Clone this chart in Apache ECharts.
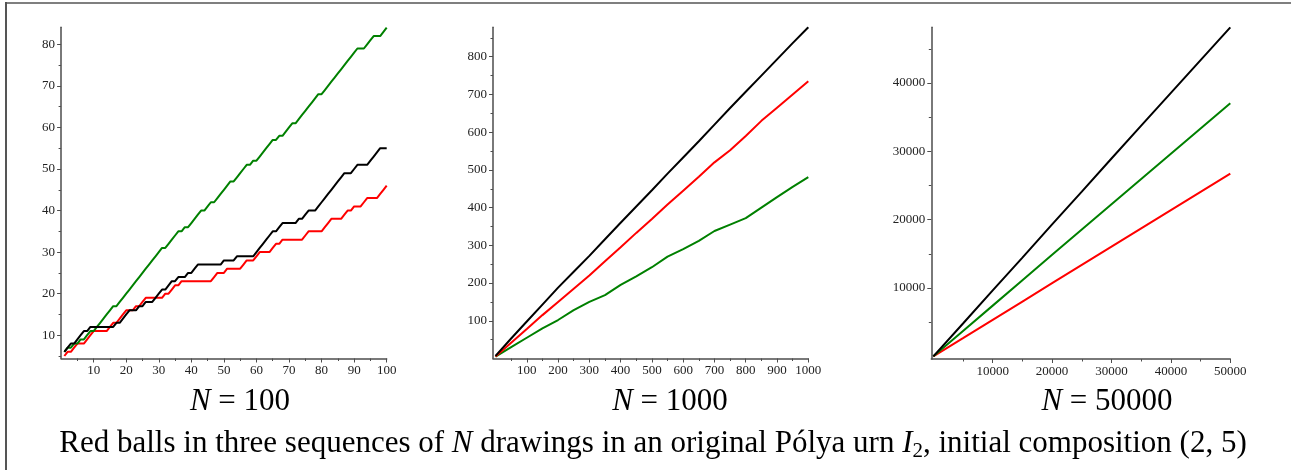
<!DOCTYPE html>
<html><head><meta charset="utf-8">
<script src="https://cdn.jsdelivr.net/npm/echarts@6/dist/echarts.min.js"></script>
<style>html,body{margin:0;padding:0;background:#fff}#c{width:1291px;height:470px}</style>
</head><body><div id="c"></div>
<script>
// ---------- Panel 1 : N = 100 (values at draw 1..100) ----------
const p1Green = [6,7,7,8,8,9,9,10,11,11, 12,13,14,15,16,17,17,18,19,20, 21,22,23,24,25,26,27,28,29,30,
  31,31,32,33,34,35,35,36,36,37, 38,39,40,40,41,42,42,43,44,45, 46,47,47,48,49,50,51,51,52,52,
  53,54,55,56,57,57,58,58,59,60, 61,61,62,63,64,65,66,67,68,68, 69,70,71,72,73,74,75,76,77,78,
  79,79,79,80,81,82,82,82,83,84];
const p1Black = [6,7,8,8,9,10,11,11,12,12, 12,12,12,12,12,12,13,13,14,15, 16,16,16,17,17,18,18,18,19,20,
  21,21,22,23,23,24,24,24,25,25, 26,27,27,27,27,27,27,27,27,28, 28,28,28,29,29,29,29,29,29,30,
  31,32,33,34,35,35,36,37,37,37, 37,37,38,38,39,40,40,40,41,42, 43,44,45,46,47,48,49,49,49,50,
  51,51,51,51,52,53,54,55,55,55];
const p1Red = [5,6,6,7,8,8,8,9,10,11, 11,11,11,11,12,13,13,14,15,16, 16,16,17,17,18,19,19,19,19,19,
  19,20,20,21,22,22,23,23,23,23, 23,23,23,23,23,23,24,25,25,25, 26,26,26,26,26,27,28,28,28,29,
  30,30,30,30,31,32,32,33,33,33, 33,33,33,33,34,35,35,35,35,35, 36,37,38,38,38,38,39,40,40,41,
  41,41,42,43,43,43,43,44,45,46];
const p1XLabels = [10,20,30,40,50,60,70,80,90,100];
const p1XMinor  = [5,15,25,35,45,55,65,75,85,95];
const p1YLabels = [10,20,30,40,50,60,70,80];
const p1YMinor  = [5,15,25,35,45,55,65,75];

// ---------- Panel 2 : N = 1000 ----------
const p2X     = [0,50,100,150,200,250,300,350,400,450,500,550,600,650,700,750,800,850,900,950,1000];
const p2Black = [7,53,98,143,188,230,272,316,360,403,446,490,533,576,620,664,707,750,793,836,878];
const p2Red   = [5,42,78,115,150,185,220,258,295,333,370,408,445,482,520,552,590,630,665,700,735];
const p2Green = [5,30,55,80,102,128,150,168,195,218,242,270,290,312,338,355,372,400,428,455,481];
const p2XLabels = [100,200,300,400,500,600,700,800,900,1000];
const p2XMinor  = [50,150,250,350,450,550,650,750,850,950];
const p2YLabels = [100,200,300,400,500,600,700,800];
const p2YMinor  = [50,150,250,350,450,550,650,750,850];

// ---------- Panel 3 : N = 50000 ----------
const p3X     = [0,5000,10000,15000,20000,25000,30000,35000,40000,45000,50000];
const p3Black = [5,4800,9650,14450,19300,24100,28950,33750,38550,43350,48150];
const p3Green = [5,3700,7420,11150,14850,18550,22250,25950,29650,33350,37030];
const p3Red   = [5,2650,5330,8020,10700,13380,16050,18730,21400,24060,26730];
const p3XLabels = [10000,20000,30000,40000,50000];
const p3XMinor  = [5000,15000,25000,35000,45000];
const p3YLabels = [10000,20000,30000,40000];
const p3YMinor  = [5000,15000,25000,35000,45000];

const panelTitles = ['100','1000','50000'];

const FONT = 'Liberation Serif';
const CAP_FONT = 'Liberation Serif';
const AXIS_COLOR = '#4d4d4d';

function pairs(xs, ys){ return ys.map((y,i)=>[xs[i], y]); }
const p1X = p1Green.map((_,i)=>i+1);

const grids = [
  {left:61.1, top:27.3, width:325.6, height:331.2},
  {left:493,  top:27.3, width:315.3, height:331.2},
  {left:931.3,top:27.3, width:299,   height:331.7}
];
const ranges = [
  {x:[0,100],      y:[4.4,84.1]},
  {x:[-8,1000],    y:[0,878]},
  {x:[-340,50000], y:[-390,48150]}
];
const ticks = [
  {xl:p1XLabels,xm:p1XMinor,yl:p1YLabels,ym:p1YMinor},
  {xl:p2XLabels,xm:p2XMinor,yl:p2YLabels,ym:p2YMinor},
  {xl:p3XLabels,xm:p3XMinor,yl:p3YLabels,ym:p3YMinor}
];

const xAxis = [], yAxis = [];
ticks.forEach((t,g)=>{
  const r = ranges[g];
  xAxis.push({type:'value', gridIndex:g, position:'bottom', min:r.x[0], max:r.x[1],
    axisLine:{show:true, onZero:false, lineStyle:{color:AXIS_COLOR, width:1.5}},
    axisTick:{show:true, customValues:t.xl, length:4, lineStyle:{color:AXIS_COLOR, width:1}},
    axisLabel:{show:true, customValues:t.xl, formatter:v=>String(v), margin:6,
      fontFamily:FONT, fontSize:13, color:'#222'},
    splitLine:{show:false}});
  xAxis.push({type:'value', gridIndex:g, position:'bottom', min:r.x[0], max:r.x[1],
    axisLine:{show:false, onZero:false},
    axisTick:{show:true, customValues:t.xm, length:2.5, lineStyle:{color:AXIS_COLOR, width:1}},
    axisLabel:{show:false}, splitLine:{show:false}});
  yAxis.push({type:'value', gridIndex:g, position:'left', min:r.y[0], max:r.y[1],
    axisLine:{show:true, onZero:false, lineStyle:{color:AXIS_COLOR, width:1.5}},
    axisTick:{show:true, customValues:t.yl, length:4, lineStyle:{color:AXIS_COLOR, width:1}},
    axisLabel:{show:true, customValues:t.yl, formatter:v=>String(v), margin:6,
      fontFamily:FONT, fontSize:13, color:'#222'},
    splitLine:{show:false}});
  yAxis.push({type:'value', gridIndex:g, position:'left', min:r.y[0], max:r.y[1],
    axisLine:{show:false, onZero:false},
    axisTick:{show:true, customValues:t.ym, length:2.5, lineStyle:{color:AXIS_COLOR, width:1}},
    axisLabel:{show:false}, splitLine:{show:false}});
});

function line(g, data, color){
  return {type:'line', xAxisIndex:2*g, yAxisIndex:2*g, data:data, showSymbol:false, symbol:'none',
    lineStyle:{color:color, width:2}, itemStyle:{color:color}, silent:true, animation:false};
}
const series = [
  line(0, pairs(p1X,p1Red), '#ff0000'),
  line(0, pairs(p1X,p1Green), '#008000'),
  line(0, pairs(p1X,p1Black), '#000000'),
  line(1, pairs(p2X,p2Green), '#008000'),
  line(1, pairs(p2X,p2Red), '#ff0000'),
  line(1, pairs(p2X,p2Black), '#000000'),
  line(2, pairs(p3X,p3Red), '#ff0000'),
  line(2, pairs(p3X,p3Green), '#008000'),
  line(2, pairs(p3X,p3Black), '#000000')
];

const CAP = 31;
const rich = {
  r:{fontFamily:CAP_FONT, fontSize:CAP, lineHeight:42, fill:'#000'},
  i:{fontFamily:CAP_FONT, fontSize:CAP, lineHeight:42, fontStyle:'italic', fill:'#000'},
  s:{fontFamily:CAP_FONT, fontSize:21, lineHeight:28, padding:[14,0,0,0], fill:'#000'}
};
const titleX = [240, 670, 1107];
const graphic = [
  {type:'line', shape:{x1:6, y1:2, x2:6, y2:470}, style:{stroke:'#555', lineWidth:2}, silent:true},
  {type:'line', shape:{x1:5, y1:3, x2:1291, y2:3}, style:{stroke:'#555', lineWidth:1.5}, silent:true}
];
panelTitles.forEach((t,i)=>{
  graphic.push({type:'text', x:titleX[i], y:402, silent:true,
    style:{text:'{i|N}{r| = '+t+'}', rich:rich, align:'center', verticalAlign:'middle'}});
});
graphic.push({type:'text', x:653, y:444, silent:true,
  style:{text:'{r|Red balls in three sequences of }{i|N}{r| drawings in an original Pólya urn }{i|I}{s|2}{r|, initial composition (2, 5)}',
    rich:rich, align:'center', verticalAlign:'middle'}});

const chart = echarts.init(document.getElementById('c'), null, {renderer:'canvas'});
chart.setOption({animation:false, backgroundColor:'#fff', grid:grids, xAxis:xAxis, yAxis:yAxis,
  series:series, graphic:graphic});
</script></body></html>
